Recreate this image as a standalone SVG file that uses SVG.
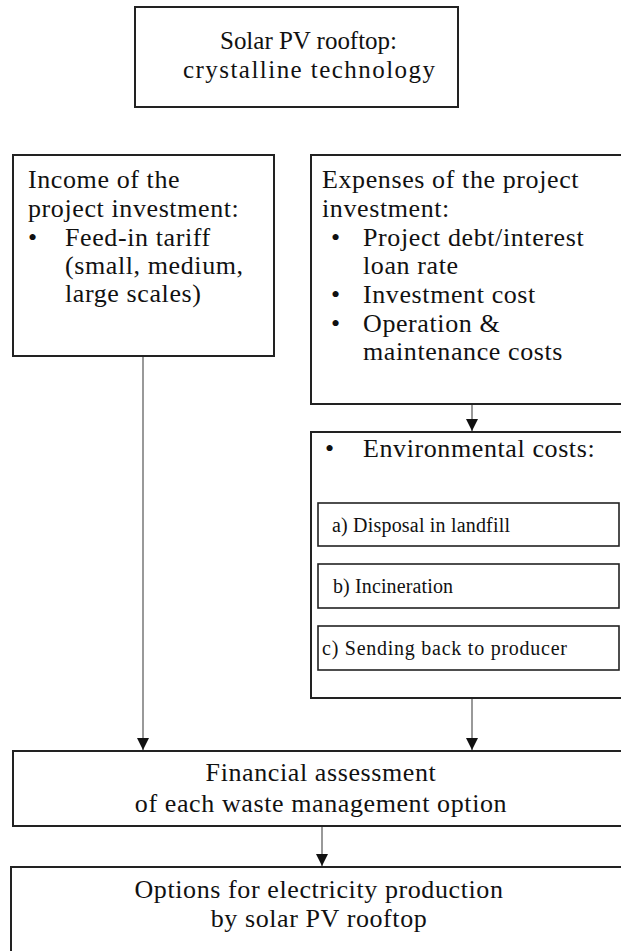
<svg xmlns="http://www.w3.org/2000/svg" width="621" height="951" viewBox="0 0 621 951">
<style>
.m{font-family:"Liberation Serif","Times New Roman",serif;font-size:26px;letter-spacing:0.6px;fill:#111}
.t{font-family:"Liberation Serif","Times New Roman",serif;font-size:25px;fill:#111}
.s{font-family:"Liberation Serif","Times New Roman",serif;font-size:20px;fill:#111}
.box{fill:#fff;stroke:#222;stroke-width:2}
.ibox{fill:#fff;stroke:#222;stroke-width:1.6}
.c{stroke:#555;stroke-width:1.2;fill:none}
</style>
<defs>
<marker id="ah" markerUnits="userSpaceOnUse" markerWidth="12" markerHeight="12" viewBox="0 0 10 10" refX="10" refY="5" orient="auto">
<path d="M0,0 L10,5 L0,10 z" fill="#111"/>
</marker>
</defs>
<rect width="621" height="951" fill="#fff"/>
<g id="top">
<rect class="box" x="135" y="7" width="323" height="100"/>
<text class="t" x="220" y="49" textLength="177">Solar PV rooftop:</text>
<text class="t" x="183" y="78" textLength="252">crystalline technology</text>
</g>
<g id="income">
<rect class="box" x="13" y="155" width="261" height="201"/>
<text class="m" x="28" y="188">Income of the</text>
<text class="m" x="28" y="217">project investment:</text>
<text class="m" x="28" y="246">•</text>
<text class="m" x="65" y="246">Feed-in tariff</text>
<text class="m" x="65" y="274">(small, medium,</text>
<text class="m" x="65" y="302">large scales)</text>
</g>
<g id="expenses">
<rect class="box" x="311" y="155" width="320" height="249"/>
<text class="m" x="322" y="188">Expenses of the project</text>
<text class="m" x="322" y="217">investment:</text>
<text class="m" x="331" y="246">•</text>
<text class="m" x="363" y="246">Project debt/interest</text>
<text class="m" x="363" y="274">loan rate</text>
<text class="m" x="331" y="303">•</text>
<text class="m" x="363" y="303">Investment cost</text>
<text class="m" x="331" y="332">•</text>
<text class="m" x="363" y="332">Operation &amp;</text>
<text class="m" x="363" y="360">maintenance costs</text>
</g>
<g id="environmental">
<rect class="box" x="311" y="432" width="320" height="266"/>
<text class="m" x="325" y="457">•</text>
<text class="m" x="363" y="457">Environmental costs:</text>
<g id="opt-a">
<rect class="ibox" x="318" y="503" width="301" height="43"/>
<text class="s" x="332" y="532" textLength="178">a) Disposal in landfill</text>
</g>
<g id="opt-b">
<rect class="ibox" x="318" y="564" width="301" height="44"/>
<text class="s" x="333" y="593" textLength="120">b) Incineration</text>
</g>
<g id="opt-c">
<rect class="ibox" x="318" y="626" width="301" height="44"/>
<text class="s" x="322" y="655" textLength="245">c) Sending back to producer</text>
</g>
</g>
<g id="financial">
<rect class="box" x="13" y="751" width="620" height="75"/>
<text class="m" x="321" y="781" text-anchor="middle">Financial assessment</text>
<text class="m" x="321" y="812" text-anchor="middle">of each waste management option</text>
</g>
<g id="options">
<rect class="box" x="11" y="867" width="620" height="100"/>
<text class="m" x="319" y="898" text-anchor="middle">Options for  electricity production</text>
<text class="m" x="319" y="927" text-anchor="middle">by solar PV rooftop</text>
</g>
<g id="connectors">
<line class="c" x1="143" y1="357" x2="143" y2="750" marker-end="url(#ah)"/>
<line class="c" x1="472" y1="405" x2="472" y2="431" marker-end="url(#ah)"/>
<line class="c" x1="472" y1="699" x2="472" y2="750" marker-end="url(#ah)"/>
<line class="c" x1="322" y1="827" x2="322" y2="866" marker-end="url(#ah)"/>
</g>
</svg>
